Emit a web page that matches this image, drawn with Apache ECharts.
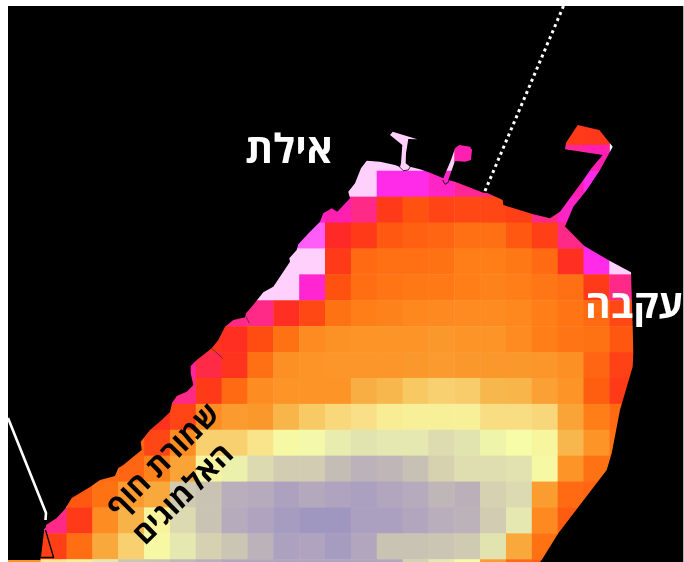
<!DOCTYPE html>
<html lang="he">
<head>
<meta charset="utf-8">
<style>
html,body{margin:0;padding:0;background:#fff;width:684px;height:562px;overflow:hidden}
#chart{position:absolute;left:8px;top:6px;width:675px;height:556px;overflow:hidden}
#edge{position:absolute;left:683px;top:6px;width:1px;height:556px;background:#b4b4b4}
</style>
<script src="https://cdn.jsdelivr.net/npm/echarts@6/dist/echarts.min.js"></script>
</head>
<body>
<div id="chart"></div><div id="edge"></div>
<script>
// Column indices -2..24, row indices -5..17 (cell index, as in the source raster)
const firstColumn = -2, columnCount = 27;
const firstRow = -5, rowCount = 23;

// Each row: [first column, values...]
const row00 = [20, 6, 5.8];
const row00pier = [13, 0, 0];
const row01 = [12, 0, 0, 0, 0, 3];
const row01tip = [20, 3.6, 3];
const row02 = [11, 0, 0, 2, 2, 2.6, 3.6, 4];
const row02tip = [20, 3, 2];
const row03 = [10, 2.6, 3, 4, 6, 7, 6.4, 6.6, 6.5, 6.2, 4, 2.6];
const row04 = [9, 1, 1, 5, 6, 7.3, 7.6, 7.8, 8.3, 8.3, 7.3, 6.2, 4, 2];
const row05 = [9, 0, 0, 6, 8, 8.3, 8.3, 8.4, 9, 9, 8.7, 8, 5.4, 2, 0];
const row06 = [8, 0, 0, 2.4, 7, 8.2, 8.5, 8.7, 8.8, 9, 9.2, 9, 8.6, 8.3, 6, 4];
const row07 = [7, 4, 4, 5.3, 6.6, 8.4, 9, 9.2, 9.4, 9.5, 9.6, 9.6, 9.4, 9, 8.5, 8, 6.6];
const row08 = [6, 5.6, 5.4, 6.8, 8.4, 9.6, 9.9, 10, 10, 10, 10.2, 10, 10, 9.6, 9, 8.5, 8.4, 7.2];
const row09 = [5, 3.5, 4.7, 5.6, 8.3, 9.8, 10, 10.1, 10.1, 10.1, 10.2, 10.3, 10.2, 10.2, 10.2, 10.1, 9.8, 7.8, 6.3];
const row10 = [5, 4, 6, 8, 9.7, 10, 10, 10, 11.3, 11.8, 12.6, 13, 12.8, 11.8, 11.7, 10.6, 10, 7.5, 6];
const row11 = [4, 5.5, 6.4, 9.7, 10.3, 10.2, 11.7, 12.7, 13.5, 14, 14.8, 15, 15, 15, 13.8, 13.8, 13.4, 10.8, 9, 8];
const row12 = [3, 7.8, 6.5, 9.7, 13, 13, 14.2, 15.7, 16.2, 16.8, 17.2, 17, 17, 17.6, 17.2, 16.4, 16, 15.4, 11.8, 10, 8.4];
const row13 = [2, 8, 7.8, 9.2, 10.8, 15.5, 16.6, 17.7, 18.4, 18.5, 19.3, 19.8, 19.6, 19.1, 18.1, 17.5, 17.5, 17.3, 15.7, 10, 8.4, 8];
const row14 = [1, 7.3, 8.4, 10.3, 11, 18.6, 19, 20, 20.2, 20.9, 20.4, 20.8, 21, 20.6, 20.2, 19.6, 19.9, 18.2, 17.7, 10.4, 8, 7.8];
const row15 = [0, 4, 6, 9.7, 11.6, 15.3, 17.7, 19, 20.2, 20.8, 21.5, 22, 22, 21, 21, 20.6, 20, 19.8, 18.5, 17, 9.5, 7.4];
const row16 = [-1, 6, 6.2, 8.2, 11, 13, 15.7, 17, 18.2, 18.9, 19.8, 20.9, 20.8, 21.5, 20.6, 19, 19, 18.9, 18.6, 17.2, 11, 8.4];
const row17 = [-2, 10, 10, 14.5, 15, 17, 18.8, 19, 19.5, 20, 20.5, 20.5, 20.7, 20.7, 20.7, 20.6, 20.5, 18.2, 17, 15.7, 10.4, 8, 7.5];

const rowTable = [[0,row00],[0,row00pier],[1,row01],[1,row01tip],[2,row02],[2,row02tip],[3,row03],[4,row04],[5,row05],[6,row06],[7,row07],[8,row08],[9,row09],[10,row10],[11,row11],[12,row12],[13,row13],[14,row14],[15,row15],[16,row16],[17,row17]];

// Colour scale, low to high
const scaleColors = ['#ffd0fb','#ff5cf8','#ff2be8','#ff1fb0','#ff2a88','#ff2a28','#ff3a18','#ff5210','#ff6a12','#ff7e18','#fc9428','#f9a83c','#f7bb50','#f8d070','#f9e088','#f8f098','#f6fca8','#e5e8b0','#d8d4b0','#c9c3b4','#b9aebb','#aca0c0','#a097c0'];

// Map shapes, in the map's own coordinates
const coastline = [[40.3,560],[40.3,557],[43.5,530],[46,527],[46,525],[56.7,518],[65,509],[71.7,498],[90,487],[100,480],[115,476],[118.3,468],[123.3,465],[133.3,456.7],[141.7,450],[140.7,441.7],[150,430],[161.7,420],[170,412],[172,403],[176.7,396],[186.7,391.7],[193.3,385],[190.7,373.3],[190.7,366],[196.7,360],[211.7,348.3],[218.3,340],[225,326.7],[233.3,320],[245,317.3],[246,313.3],[251.7,306.7],[263.3,292.3],[273.3,286.7],[290,261.7],[289.3,258.3],[296.7,250],[298.3,244.3],[310,231.7],[320,221.7],[323.3,213.3],[331.7,208.3],[337.3,211.7],[350,198.3],[348.3,191.7],[355,183.3],[361,168.3],[366.7,160.7],[380,161.7],[395,165],[400,167],[401,163.3],[402.3,145],[390,135],[392.7,131.7],[417.3,139.3],[408.3,139],[406,153.3],[405.7,163.3],[410,166.7],[420,169.3],[430,172.7],[443.3,178.3],[451,160],[455,148.3],[459.3,145],[470,146.7],[472,150],[471,160],[465,161.7],[455,161],[448.3,180],[455,181.7],[483.3,192.7],[488,193.3],[502.7,200],[503.3,205],[533.3,214.3],[550,218.3],[560,211.7],[583.3,180],[591.7,168],[602.7,155],[565,149.3],[566,142.7],[577.7,125],[599.3,130],[612.7,146.7],[600,170],[586.7,190],[573.3,206.7],[565,226.5],[584.3,246],[610,261],[631,272.3],[632.7,326.7],[633.3,352.7],[632.7,366.7],[620,410],[611.7,453.3],[606.7,470],[558.3,533.3],[541.7,560],[540,562],[684,562],[684,6],[8,6],[8,560]];
const borderLine = [[8,418],[46,513],[45.5,520]];
const dottedLine = [[563.5,6],[485,191]];
const outlineTriangle = [[43.5,530],[40.3,557.5],[53.6,557.5],[45.5,530]];
const breakwaterA = [[399.3,166.7],[403.3,170.7],[408.3,170],[410.7,166]];
const breakwaterB = [[442.7,180],[445,184.3],[448.3,182.3],[449,180]];
const contourA = [[211.7,348.3],[222.7,358.3]];
const contourB = [[246,316.7],[249.3,323.3]];

// Text
const cityEilat = 'אילת';
const cityAqaba = 'עקבה';
const reserveLine1 = 'שמורת חוף';
const reserveLine2 = 'האלמוגים';

const columnNames = Array.from({length: columnCount}, (_, i) => String(firstColumn + i));
const rowNames = Array.from({length: rowCount}, (_, i) => String(firstRow + i));
const cells = [];
rowTable.forEach(([r, vals]) => {
  vals.slice(1).forEach((v, k) => cells.push([vals[0] + k - firstColumn, r - firstRow, v]));
});

function polygonSeries(points) {
  return {
    type: 'custom', xAxisIndex: 1, yAxisIndex: 1, silent: true, clip: false, animation: false,
    data: points, encode: {x: 0, y: 1},
    renderItem(params, api) {
      if (params.dataIndex !== 0) return null;
      return {type: 'polygon', shape: {points: points.map(p => api.coord(p))}, style: {fill: '#000', stroke: null}};
    }
  };
}
function lineSeries(points, color, width, type) {
  return {
    type: 'line', xAxisIndex: 1, yAxisIndex: 1, data: points, symbol: 'none', silent: true, animation: false,
    lineStyle: {color, width, type: type || 'solid', cap: 'butt'}
  };
}
const OX = 8, OY = 6;
function label(text, x, y, size, color, weight, rotation) {
  return {
    type: 'text', x: x - OX, y: y - OY, rotation: rotation || 0, z: 100, silent: true,
    style: {text, fill: color, font: weight + ' ' + size + 'px "Open Sans","DejaVu Sans",sans-serif', textAlign: 'center', textVerticalAlign: 'middle'}
  };
}

const chart = echarts.init(document.getElementById('chart'), null, {renderer: 'canvas'});
const gridLeft = -18.8, gridTop = -16.3, gridW = 697.95, gridH = 595.7;
chart.setOption({
  animation: false,
  backgroundColor: 'transparent',
  grid: {left: gridLeft, top: gridTop, width: gridW, height: gridH, show: false, outerBoundsMode: 'none', containLabel: false},
  xAxis: [
    {type: 'category', data: columnNames, show: false, boundaryGap: true},
    {type: 'value', min: gridLeft + OX, max: gridLeft + OX + gridW, show: false, splitLine: {show: false}}
  ],
  yAxis: [
    {type: 'category', data: rowNames, show: false, inverse: true, boundaryGap: true},
    {type: 'value', min: gridTop + OY, max: gridTop + OY + gridH, inverse: true, show: false, splitLine: {show: false}}
  ],
  visualMap: {show: false, type: 'continuous', seriesIndex: 0, dimension: 2, min: 0, max: 22, inRange: {color: scaleColors}},
  series: [
    {type: 'heatmap', data: cells, silent: true, progressive: 0, animation: false, itemStyle: {borderWidth: 0}},
    polygonSeries(coastline),
    lineSeries(outlineTriangle, '#000', 1.3),
    lineSeries(breakwaterA, '#000', 0.8),
    lineSeries(breakwaterB, '#000', 0.8),
    lineSeries(contourA, '#222', 0.6),
    lineSeries(contourB, '#222', 0.6),
    lineSeries(borderLine, '#fff', 2.6),
    lineSeries(dottedLine, '#fff', 3, [3, 3.6])
  ],
  graphic: [
    label(cityEilat, 289, 152, 40, '#fff', 700),
    label(cityAqaba, 634, 307, 39, '#fff', 700),
    label(reserveLine1, 164, 461, 30, '#000', 700, Math.PI / 4),
    label(reserveLine2, 184, 495, 30, '#000', 700, Math.PI / 4)
  ]
});
</script>
</body>
</html>
